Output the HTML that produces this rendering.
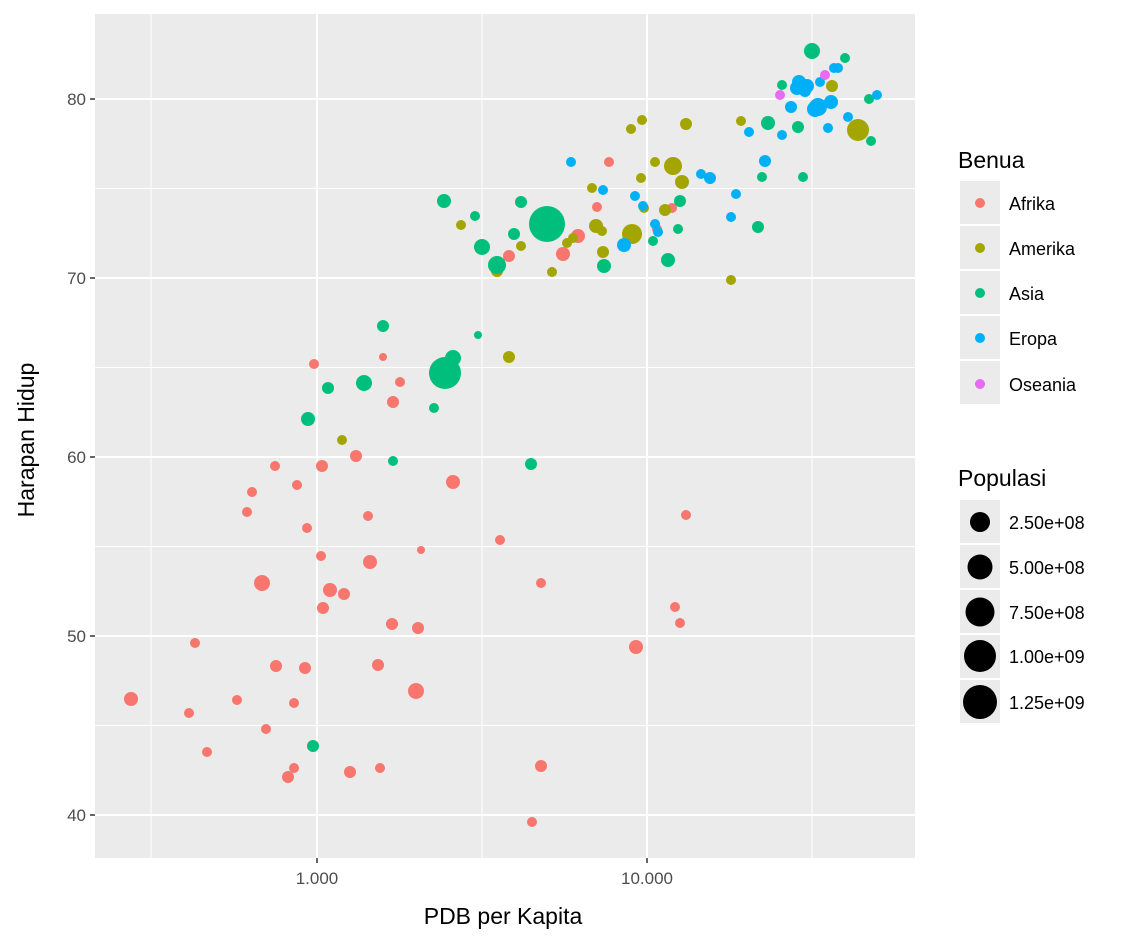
<!DOCTYPE html>
<html><head><meta charset="utf-8"><style>
body{margin:0;background:#fff;}
svg text{font-family:"Liberation Sans",Arial,sans-serif;}
</style></head><body>
<svg width="1136" height="944" xmlns="http://www.w3.org/2000/svg">
<rect x="95" y="14" width="820" height="844" fill="#ebebeb"/>
<g stroke="#fff" stroke-width="1">
<line x1="95" x2="915" y1="188.5" y2="188.5"/><line x1="95" x2="915" y1="367.5" y2="367.5"/>
<line x1="95" x2="915" y1="546.5" y2="546.5"/><line x1="95" x2="915" y1="725.5" y2="725.5"/>
<line x1="151" x2="151" y1="14" y2="858"/><line x1="482" x2="482" y1="14" y2="858"/><line x1="812" x2="812" y1="14" y2="858"/>
</g>
<g stroke="#fff" stroke-width="2">
<line x1="95" x2="915" y1="99" y2="99"/><line x1="95" x2="915" y1="278" y2="278"/>
<line x1="95" x2="915" y1="457" y2="457"/><line x1="95" x2="915" y1="636" y2="636"/><line x1="95" x2="915" y1="815" y2="815"/>
<line x1="317" x2="317" y1="14" y2="858"/><line x1="647" x2="647" y1="14" y2="858"/>
</g>
<g font-size="17" fill="#4d4d4d" text-anchor="end">
<text x="86" y="105">80</text><text x="86" y="284">70</text><text x="86" y="463">60</text><text x="86" y="642">50</text><text x="86" y="821">40</text>
</g>
<g stroke="#333" stroke-width="1.5">
<line x1="90" x2="95" y1="99" y2="99"/><line x1="90" x2="95" y1="278" y2="278"/><line x1="90" x2="95" y1="457" y2="457"/><line x1="90" x2="95" y1="636" y2="636"/><line x1="90" x2="95" y1="815" y2="815"/>
<line x1="317" x2="317" y1="858" y2="863"/><line x1="647" x2="647" y1="858" y2="863"/>
</g>
<g font-size="17" fill="#4d4d4d" text-anchor="middle">
<text x="317" y="884">1.000</text><text x="647" y="884">10.000</text>
</g>
<text x="503" y="924" font-size="23" text-anchor="middle">PDB per Kapita</text>
<text transform="translate(34,440) rotate(-90)" font-size="23" text-anchor="middle">Harapan Hidup</text>

<g fill="#F8766D">
<circle cx="131" cy="699" r="7"/><circle cx="189" cy="713" r="5"/><circle cx="195" cy="643" r="5"/><circle cx="207" cy="752" r="5"/><circle cx="237" cy="700" r="5"/><circle cx="247" cy="512" r="5"/><circle cx="252" cy="492" r="5"/><circle cx="266" cy="729" r="5"/><circle cx="262" cy="583" r="8"/><circle cx="275" cy="466" r="5"/><circle cx="276" cy="666" r="6"/><circle cx="288" cy="777" r="6"/><circle cx="297" cy="485" r="5"/><circle cx="294" cy="703" r="5"/><circle cx="294" cy="768" r="5"/><circle cx="305" cy="668" r="6"/><circle cx="307" cy="528" r="5"/><circle cx="314" cy="364" r="5"/><circle cx="322" cy="466" r="6"/><circle cx="321" cy="556" r="5"/><circle cx="323" cy="608" r="6"/><circle cx="330" cy="590" r="7"/><circle cx="344" cy="594" r="6"/><circle cx="356" cy="456" r="6"/><circle cx="350" cy="772" r="6"/><circle cx="368" cy="516" r="5"/><circle cx="370" cy="562" r="7"/><circle cx="378" cy="665" r="6"/><circle cx="380" cy="768" r="5"/><circle cx="383" cy="357" r="4"/><circle cx="393" cy="402" r="6"/><circle cx="400" cy="382" r="5"/><circle cx="392" cy="624" r="6"/><circle cx="418" cy="628" r="6"/><circle cx="416" cy="691" r="8"/><circle cx="421" cy="550" r="4"/><circle cx="453" cy="482" r="7"/><circle cx="500" cy="540" r="5"/><circle cx="541" cy="583" r="5"/><circle cx="541" cy="766" r="6"/><circle cx="532" cy="822" r="5"/><circle cx="509" cy="256" r="6"/><circle cx="563" cy="254" r="7"/><circle cx="578" cy="236" r="7"/><circle cx="597" cy="207" r="5"/><circle cx="609" cy="162" r="5"/><circle cx="636" cy="647" r="7"/><circle cx="675" cy="607" r="5"/><circle cx="680" cy="623" r="5"/><circle cx="686" cy="515" r="5"/><circle cx="657" cy="229" r="5"/><circle cx="672" cy="208" r="5"/>
</g>
<g fill="#A3A500">
<circle cx="342" cy="440" r="5"/><circle cx="461" cy="225" r="5"/><circle cx="497" cy="271" r="6"/><circle cx="509" cy="357" r="6"/><circle cx="521" cy="246" r="5"/><circle cx="552" cy="272" r="5"/><circle cx="567" cy="243" r="5"/><circle cx="573" cy="238" r="5"/><circle cx="592" cy="188" r="5"/><circle cx="596" cy="226" r="7"/><circle cx="602" cy="231" r="5"/><circle cx="603" cy="252" r="6"/><circle cx="631" cy="129" r="5"/><circle cx="632" cy="234" r="10"/><circle cx="641" cy="178" r="5"/><circle cx="642" cy="120" r="5"/><circle cx="644" cy="208" r="5"/><circle cx="655" cy="162" r="5"/><circle cx="665" cy="210" r="6"/><circle cx="673" cy="166" r="9"/><circle cx="682" cy="182" r="7"/><circle cx="686" cy="124" r="6"/><circle cx="731" cy="280" r="5"/><circle cx="741" cy="121" r="5"/><circle cx="858" cy="130" r="11"/><circle cx="832" cy="86" r="6"/>
</g>
<g fill="#00BF7D">
<circle cx="313" cy="746" r="6"/><circle cx="308" cy="419" r="7"/><circle cx="328" cy="388" r="6"/><circle cx="364" cy="383" r="8"/><circle cx="383" cy="326" r="6"/><circle cx="393" cy="461" r="5"/><circle cx="434" cy="408" r="5"/><circle cx="445" cy="373" r="16"/><circle cx="453" cy="358" r="8"/><circle cx="444" cy="201" r="7"/><circle cx="475" cy="216" r="5"/><circle cx="478" cy="335" r="4"/><circle cx="482" cy="247" r="8"/><circle cx="497" cy="265" r="9"/><circle cx="514" cy="234" r="6"/><circle cx="521" cy="202" r="6"/><circle cx="531" cy="464" r="6"/><circle cx="547" cy="224" r="18"/><circle cx="604" cy="266" r="7"/><circle cx="653" cy="241" r="5"/><circle cx="668" cy="260" r="7"/><circle cx="678" cy="229" r="5"/><circle cx="680" cy="201" r="6"/><circle cx="758" cy="227" r="6"/><circle cx="762" cy="177" r="5"/><circle cx="768" cy="123" r="7"/><circle cx="782" cy="85" r="5"/><circle cx="798" cy="127" r="6"/><circle cx="803" cy="177" r="5"/><circle cx="812" cy="51" r="8"/><circle cx="845" cy="58" r="5"/><circle cx="869" cy="99" r="5"/><circle cx="871" cy="141" r="5"/>
</g>
<g fill="#00B0F6">
<circle cx="571" cy="162" r="5"/><circle cx="603" cy="190" r="5"/><circle cx="624" cy="245" r="7"/><circle cx="635" cy="196" r="5"/><circle cx="643" cy="206" r="5"/><circle cx="655" cy="224" r="5"/><circle cx="658" cy="232" r="5"/><circle cx="701" cy="174" r="5"/><circle cx="710" cy="178" r="6"/><circle cx="731" cy="217" r="5"/><circle cx="736" cy="194" r="5"/><circle cx="749" cy="132" r="5"/><circle cx="765" cy="161" r="6"/><circle cx="782" cy="135" r="5"/><circle cx="791" cy="107" r="6"/><circle cx="797" cy="88" r="7"/><circle cx="799" cy="82" r="7"/><circle cx="805" cy="91" r="6"/><circle cx="807" cy="86" r="7"/><circle cx="815" cy="109" r="8"/><circle cx="818" cy="107" r="9"/><circle cx="820" cy="82" r="5"/><circle cx="828" cy="128" r="5"/><circle cx="831" cy="102" r="7"/><circle cx="834" cy="68" r="5"/><circle cx="838" cy="68" r="5"/><circle cx="848" cy="117" r="5"/><circle cx="877" cy="95" r="5"/>
</g>
<g fill="#E76BF3"><circle cx="780" cy="95" r="5"/><circle cx="825" cy="75" r="5"/></g>

<text x="958" y="168" font-size="23">Benua</text>
<g fill="#ebebeb">
<rect x="960" y="181" width="40" height="43"/><rect x="960" y="226" width="40" height="43"/><rect x="960" y="271" width="40" height="43"/><rect x="960" y="316" width="40" height="43"/><rect x="960" y="361" width="40" height="43"/>
<rect x="960" y="500" width="40" height="43"/><rect x="960" y="545" width="40" height="43"/><rect x="960" y="590" width="40" height="43"/><rect x="960" y="635" width="40" height="43"/><rect x="960" y="680" width="40" height="43"/>
</g>
<circle cx="980" cy="203" r="5" fill="#F8766D"/><circle cx="980" cy="248" r="5" fill="#A3A500"/><circle cx="980" cy="293" r="5" fill="#00BF7D"/><circle cx="980" cy="338" r="5" fill="#00B0F6"/><circle cx="980" cy="384" r="5" fill="#E76BF3"/>
<g font-size="18">
<text x="1009" y="210">Afrika</text><text x="1009" y="255">Amerika</text><text x="1009" y="300">Asia</text><text x="1009" y="345">Eropa</text><text x="1009" y="391">Oseania</text>
</g>
<text x="958" y="486" font-size="23">Populasi</text>
<g fill="#000">
<circle cx="980" cy="522" r="10"/><circle cx="980" cy="567" r="12.5"/><circle cx="980" cy="612" r="14.5"/><circle cx="980" cy="656" r="16"/><circle cx="980" cy="702" r="17"/>
</g>
<g font-size="18">
<text x="1009" y="529">2.50e+08</text><text x="1009" y="574">5.00e+08</text><text x="1009" y="619">7.50e+08</text><text x="1009" y="663">1.00e+09</text><text x="1009" y="709">1.25e+09</text>
</g>
</svg>
</body></html>
